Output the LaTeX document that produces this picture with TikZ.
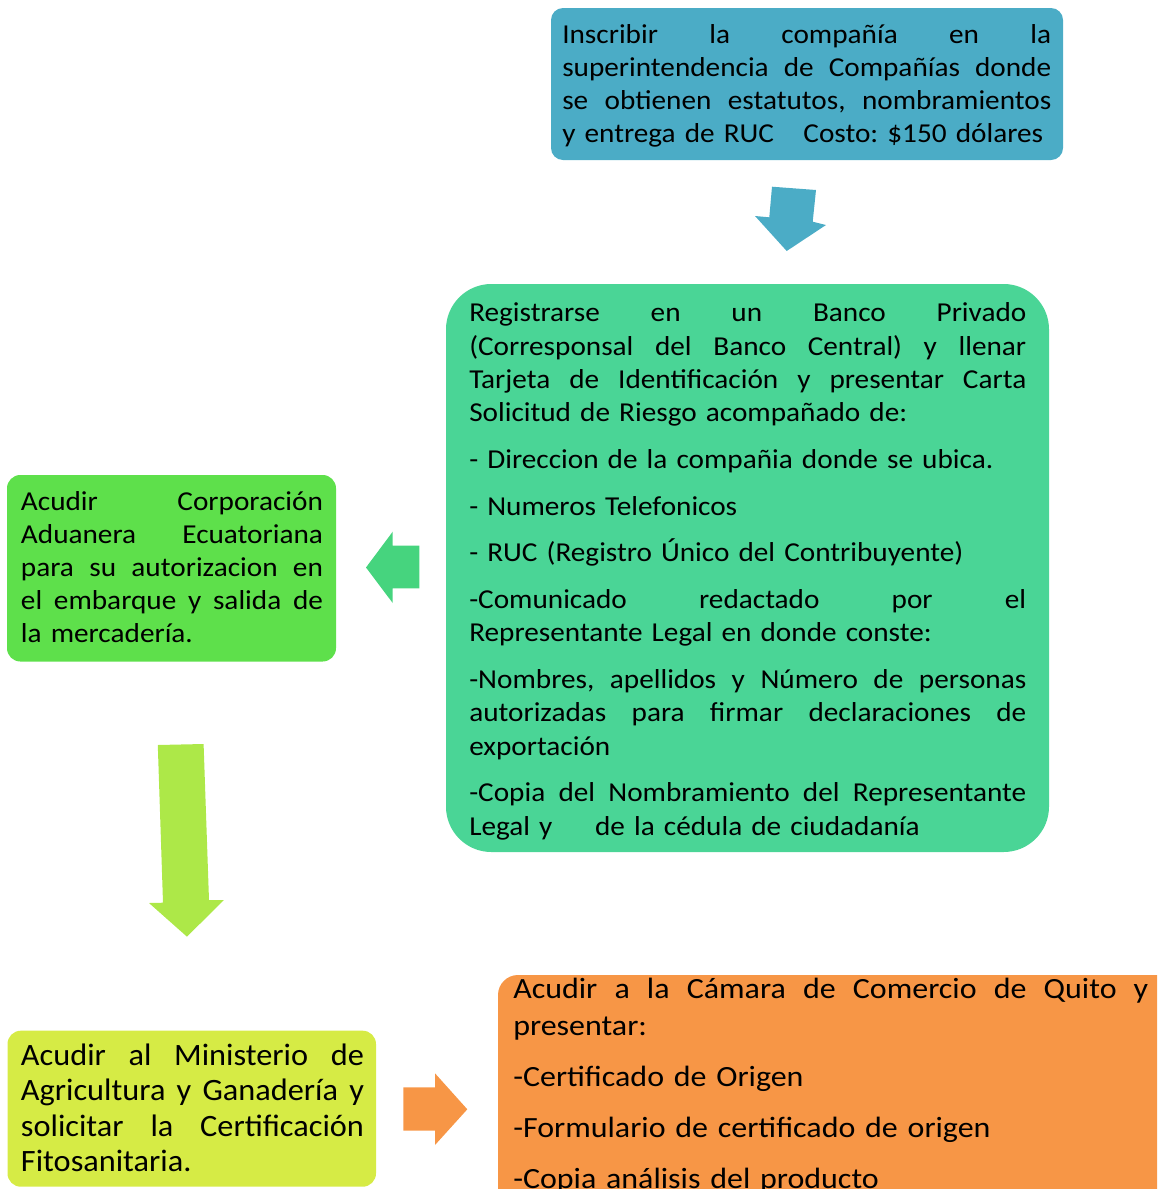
\documentclass[tikz,border=0pt]{standalone}
\usepackage{fontspec}
\setmainfont{Carlito}
\newfontfamily\fontA[FakeStretch=1.07]{Carlito}
\newfontfamily\fontY[FakeStretch=1.04]{Carlito}
\newfontfamily\fontO[FakeStretch=1.09]{Carlito}
\definecolor{cblue}{HTML}{4BACC6}
\definecolor{cmint}{HTML}{4AD596}
\definecolor{cmintarrow}{HTML}{46D47E}
\definecolor{cgreen}{HTML}{5EE04B}
\definecolor{clime}{HTML}{ADE848}
\definecolor{cyellow}{HTML}{D6EB45}
\definecolor{corange}{HTML}{F79646}
\newcommand{\jl}[1]{{\spaceskip=.3333em plus 3em\relax\makebox[\hsize][s]{#1}}}
\frenchspacing
\begin{document}
\begin{tikzpicture}[x=0.75pt,y=-0.75pt,
  txt/.style={anchor=base west, inner sep=0pt, align=left, text=black},
  fa/.style={font=\fontA\fontsize{20.5pt}{24.75pt}\selectfont},
  fb/.style={font=\fontA\fontsize{20.5pt}{25pt}\selectfont},
  fc/.style={font=\fontY\fontsize{23.3pt}{26.7pt}\selectfont},
  fd/.style={font=\fontO\fontsize{22pt}{27.75pt}\selectfont}]
\useasboundingbox (0,0) rectangle (1157,1189);
\clip (0,0) rectangle (1157,1189);
% boxes
\fill[cblue, rounded corners=9pt] (551,8) rectangle (1063,160);
\fill[cmint, rounded corners=34pt] (446,284) rectangle (1049,852);
\fill[cgreen, rounded corners=10pt] (7,475) rectangle (336,661.5);
\fill[cyellow, rounded corners=10pt] (7.5,1030.7) rectangle (376,1186.7);
\fill[corange, rounded corners=15pt] (498,975) rectangle (1180,1220);
% arrows
\fill[cblue] (772,186.7) -- (816,190) -- (812.7,221.7) -- (826,225) -- (786.7,251) -- (755,216) -- (769.3,217.3) -- cycle;
\fill[cmintarrow] (419.3,545.7) -- (392.7,545.7) -- (392.7,531.7) -- (366,567.5) -- (392.7,603) -- (392.7,588.3) -- (419.3,588.3) -- cycle;
\fill[clime] (157.8,745) -- (203.6,744) -- (209,900) -- (223.8,900) -- (187,936.7) -- (149,903) -- (163,902.7) -- cycle;
\fill[corange] (403.3,1087.3) -- (435,1087.3) -- (435,1073.3) -- (467.3,1109.3) -- (435,1145) -- (435,1130.7) -- (403.3,1130.7) -- cycle;
% texts
\node[txt, fa, text width=366.75pt] (t1) at (562,43) {%
\jl{Inscribir la compañía en la}\\
\jl{superintendencia de Compañías donde}\\
\jl{se obtienen estatutos, nombramientos}\\
y entrega de RUC\hspace{22pt}Costo: \$150 dólares};
\node[txt, fb, text width=417.75pt] (t2) at (469,321.7) {%
\jl{Registrarse en un Banco Privado}\\
\jl{(Corresponsal del Banco Central) y llenar}\\
\jl{Tarjeta de Identificación y presentar Carta}\\
Solicitud de Riesgo acompañado de:\\[10pt]
- Direccion de la compañia donde se ubica.\\[10pt]
- Numeros Telefonicos\\[10pt]
- RUC (Registro Único del Contribuyente)\\[10pt]
\jl{-Comunicado redactado por el}\\
Representante Legal en donde conste:\\[10pt]
\jl{-Nombres, apellidos y Número de personas}\\
\jl{autorizadas para firmar declaraciones de}\\
exportación\\[10pt]
\jl{-Copia del Nombramiento del Representante}\\
Legal y\hspace{32pt}de la cédula de ciudadanía};
\node[txt, fa, text width=226.5pt] (t3) at (20.7,510) {%
\jl{Acudir Corporación}\\
\jl{Aduanera Ecuatoriana}\\
\jl{para su autorizacion en}\\
\jl{el embarque y salida de}\\
la mercadería.};
\node[txt, fc, text width=257.25pt] (t4) at (20.7,1065) {%
\jl{Acudir al Ministerio de}\\
\jl{Agricultura y Ganadería y}\\
\jl{solicitar la Certificación}\\
Fitosanitaria.};
\node[txt, fd, text width=476.25pt] (t5) at (513,998) {%
\jl{Acudir a la Cámara de Comercio de Quito y}\\
presentar:\\[10.5pt]
-Certificado de Origen\\[10.5pt]
-Formulario de certificado de origen\\[10.5pt]
-Copia análisis del producto};
\end{tikzpicture}
\end{document}
